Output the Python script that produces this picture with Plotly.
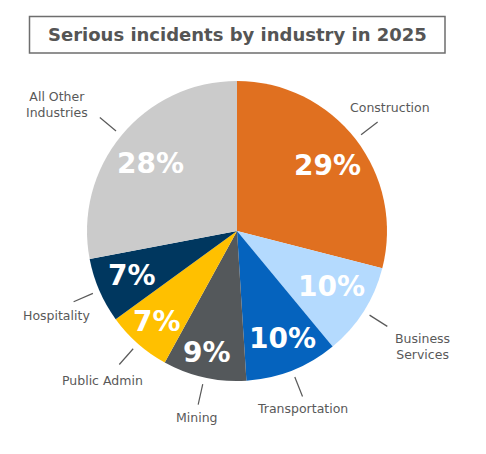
import math
import plotly.graph_objects as go

# ---- data ----
industries = ["Construction", "Business<br>Services", "Transportation", "Mining",
              "Public Admin", "Hospitality", "All Other<br>Industries"]
shares = [29, 10, 10, 9, 7, 7, 28]
colors = ["#E07020", "#B4DAFE", "#0563BE", "#54585B", "#FFC000", "#00375F", "#CBCBCB"]
title_text = "Serious incidents by industry in 2025"

# ---- layout geometry (pixels of the page; the page body has an 8px margin) ----
PAGE_MARGIN = 8
W, H = 486 - 2 * PAGE_MARGIN, 454 - 2 * PAGE_MARGIN
CX, CY, R = 237, 231, 150
FONT = "DejaVu Sans"
LABEL_SIZE = 12.5
PCT_SIZE = 28
# small hand placement nudges (pixels, +x right, +y down), per slice order
PCT_NUDGE = [(-1, 5), (-3, -6), (3, 0), (-5, 9), (-4, 4), (1, -1), (2, 6)]
LABEL_NUDGE = [(-1, -4), (6, 1), (-5, -1), (2, 0), (-7, 4), (5, 4), (-19, 6)]


def px(x):
    return (x - PAGE_MARGIN) / W


def py(y):
    return 1 - (y - PAGE_MARGIN) / H


fig = go.Figure()
fig.add_trace(go.Pie(
    values=shares,
    labels=[s.replace("<br>", " ") for s in industries],
    marker=dict(colors=colors, line=dict(width=0)),
    sort=False,
    direction="clockwise",
    rotation=0,
    textinfo="none",
    hoverinfo="label+percent",
    showlegend=False,
    domain=dict(x=[px(CX - R), px(CX + R)], y=[py(CY + R), py(CY - R)]),
))

total = sum(shares)
annotations = []
shapes = []
cum = 0
for i, (name, v) in enumerate(zip(industries, shares)):
    mid = (cum + v / 2) / total * 2 * math.pi
    cum += v
    ux, uy = math.sin(mid), math.cos(mid)
    # percentage label inside slice
    rp = 0.77 * R
    nx, ny = PCT_NUDGE[i]
    annotations.append(dict(
        x=px(CX + rp * ux + nx), y=py(CY - rp * uy + ny), xref="paper", yref="paper",
        text=f"{round(v / total * 100)}%", showarrow=False,
        font=dict(family=FONT, size=PCT_SIZE, color="white", weight="bold"),
        xanchor="center", yanchor="middle",
    ))
    # leader line
    r1, r2 = R + 7, R + 28
    shapes.append(dict(
        type="line", xref="paper", yref="paper",
        x0=px(CX + r1 * ux), y0=py(CY - r1 * uy),
        x1=px(CX + r2 * ux), y1=py(CY - r2 * uy),
        line=dict(color="#595959", width=1.2),
    ))
    # outside category label
    lines = name.split("<br>")
    w = max(len(s) for s in lines) * 0.55 * LABEL_SIZE
    h = len(lines) * 17 - 3
    ext = min((w / 2) / max(abs(ux), 1e-6), (h / 2) / max(abs(uy), 1e-6))
    rl = r2 + 6 + ext
    lx, ly = LABEL_NUDGE[i]
    annotations.append(dict(
        x=px(CX + rl * ux + lx), y=py(CY - rl * uy + ly), xref="paper", yref="paper",
        text=name, showarrow=False, align="center",
        font=dict(family=FONT, size=LABEL_SIZE, color="#595959"),
        xanchor="center", yanchor="middle",
    ))

# title box
shapes.append(dict(type="rect", xref="paper", yref="paper",
                   x0=px(29.5), x1=px(445), y0=py(16.5), y1=py(53),
                   line=dict(color="#6E6E6E", width=1.5), fillcolor="white"))
annotations.append(dict(
    x=px(237), y=py(34.5), xref="paper", yref="paper", text=title_text,
    showarrow=False, xanchor="center", yanchor="middle",
    font=dict(family=FONT, size=18, color="#555555", weight="bold"),
))

fig.update_layout(
    width=W, height=H,
    margin=dict(l=0, r=0, t=0, b=0),
    paper_bgcolor="white", plot_bgcolor="white",
    shapes=shapes, annotations=annotations,
)
fig.write_html("out.html")
